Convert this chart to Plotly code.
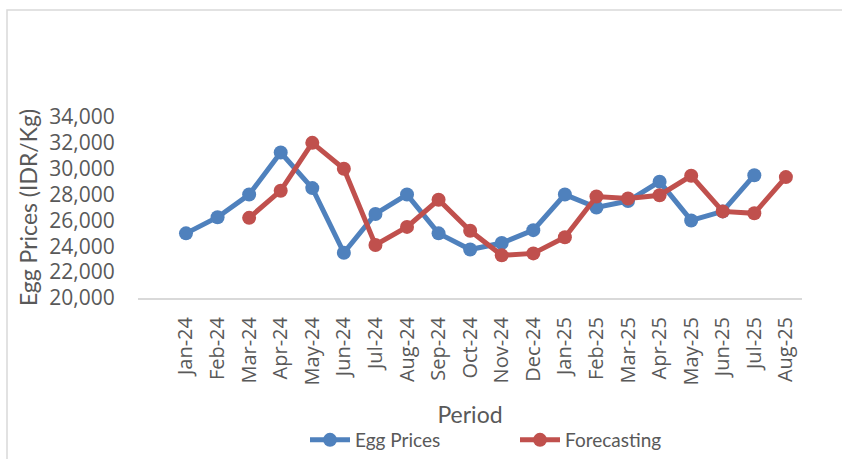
import plotly.graph_objects as go

periods = ["Jan-24", "Feb-24", "Mar-24", "Apr-24", "May-24", "Jun-24", "Jul-24",
           "Aug-24", "Sep-24", "Oct-24", "Nov-24", "Dec-24", "Jan-25", "Feb-25",
           "Mar-25", "Apr-25", "May-25", "Jun-25", "Jul-25", "Aug-25"]
egg_prices = [25000, 26250, 28000, 31250, 28500, 23500, 26500, 28000, 25000, 23750,
              24250, 25250, 28000, 27000, 27500, 29000, 26000, 26700, 29500, None]
forecasting = [None, None, 26200, 28300, 32000, 30000, 24100, 25500, 27600, 25200,
               23300, 23450, 24700, 27850, 27700, 27950, 29450, 26700, 26550, 29350]
y_ticks = [20000, 22000, 24000, 26000, 28000, 30000, 32000, 34000]

FONT = "Lato"
TXT = "#595959"

fig = go.Figure()
fig.add_trace(go.Scatter(
    x=periods, y=egg_prices, name="Egg Prices", mode="lines+markers",
    line=dict(color="#4f81bd", width=5), marker=dict(size=14, color="#4f81bd"),
    connectgaps=False,
))
fig.add_trace(go.Scatter(
    x=periods, y=forecasting, name="Forecasting", mode="lines+markers",
    line=dict(color="#c0504d", width=5), marker=dict(size=14, color="#c0504d"),
    connectgaps=False,
))

PL, PT, PW, PH = 138, 117, 664, 181
W, H = 842, 459

fig.update_layout(
    width=W, height=H,
    margin=dict(l=PL, r=W - PL - PW, t=PT, b=H - PT - PH, autoexpand=False),
    paper_bgcolor="white", plot_bgcolor="white",
    font=dict(family=FONT, color=TXT),
    showlegend=True,
    legend=dict(orientation="h", x=(305 - 138) / PW, xanchor="left",
                y=(298 - 440) / PH, yanchor="middle",
                font=dict(size=19, color=TXT), itemwidth=40,
                entrywidth=155, entrywidthmode="pixels",
                bgcolor="rgba(0,0,0,0)", tracegroupgap=0),
    xaxis=dict(
        type="category", range=[-1.52, 19.51],
        showgrid=False, zeroline=False,
        showline=True, linecolor="#d9d9d9", linewidth=2,
        tickangle=-90, tickfont=dict(size=20, color=TXT, family="Open Sans"),
        ticks="outside", ticklen=9, tickcolor="rgba(0,0,0,0)",
        title=dict(text="Period", font=dict(size=23, color=TXT), standoff=22),
        automargin=False,
    ),
    yaxis=dict(
        range=[20000, 34000], tickvals=y_ticks, tickformat=",d",
        showgrid=False, zeroline=False, showline=False,
        tickfont=dict(size=21, color=TXT, family="Open Sans"),
        ticks="outside", ticklen=18, tickcolor="rgba(0,0,0,0)",
        title=dict(text="Egg Prices (IDR/Kg)", font=dict(size=23, color=TXT), standoff=5),
        automargin=False,
    ),
    shapes=[dict(type="rect", xref="paper", yref="paper",
                 x0=(7 - 138) / PW, x1=(900 - 138) / PW,
                 y0=(298 - 500) / PH, y1=(298 - 10) / PH,
                 line=dict(color="#d9d9d9", width=1.5), fillcolor="rgba(0,0,0,0)",
                 layer="below")],
)

fig.write_html(
    "out.html",
    config={"displayModeBar": False},
    post_script="document.body.style.margin='0';document.body.style.overflow='hidden';",
)
